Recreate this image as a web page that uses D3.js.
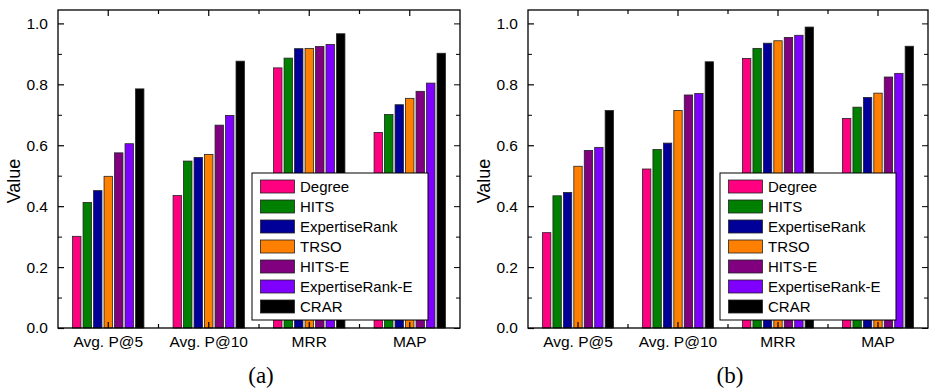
<!DOCTYPE html>
<html>
<head>
<meta charset="utf-8">
<script src="https://cdn.jsdelivr.net/npm/d3@7/dist/d3.min.js"></script>
<style>
  html, body { margin: 0; padding: 0; background: #fff; }
  svg { display: block; }
  text { font-family: "Liberation Sans", Arial, sans-serif; fill: #000; }
</style>
</head>
<body>
<svg id="chart" width="930" height="389"></svg>
<script>
const categories = ["Avg. P@5", "Avg. P@10", "MRR", "MAP"];
const seriesNames = ["Degree", "HITS", "ExpertiseRank", "TRSO", "HITS-E", "ExpertiseRank-E", "CRAR"];
const seriesColors = ["#FF0080", "#008000", "#000099", "#FF8000", "#800080", "#8000FF", "#000000"];
// values per series, per category (panel a)
const valuesA = [
  [0.301, 0.435, 0.854, 0.642],
  [0.412, 0.548, 0.886, 0.701],
  [0.451, 0.560, 0.917, 0.733],
  [0.498, 0.570, 0.918, 0.754],
  [0.575, 0.666, 0.924, 0.777],
  [0.605, 0.698, 0.931, 0.804],
  [0.785, 0.876, 0.966, 0.902]
];
// panel b
const valuesB = [
  [0.313, 0.522, 0.885, 0.688],
  [0.434, 0.586, 0.918, 0.725],
  [0.445, 0.607, 0.935, 0.757],
  [0.531, 0.714, 0.943, 0.771],
  [0.583, 0.765, 0.954, 0.824],
  [0.593, 0.770, 0.961, 0.836],
  [0.714, 0.874, 0.988, 0.925]
];
const yTicks = [0.0, 0.2, 0.4, 0.6, 0.8, 1.0];
const yMinorTicks = [0.1, 0.3, 0.5, 0.7, 0.9];
const panelLabels = ["(a)", "(b)"];
const yAxisTitle = "Value";

const svg = d3.select("#chart");

function drawPanel(values, left, right, label) {
  const top = 10, bottom = 328;
  const g = svg.append("g");
  const y = d3.scaleLinear().domain([0, 1.044]).range([bottom, top]);
  const x = d3.scaleBand().domain(categories).range([left, right]).padding(0);
  const groupW = x.bandwidth() * 0.71;
  const xs = d3.scaleBand().domain(seriesNames)
    .range([(x.bandwidth() - groupW) / 2, (x.bandwidth() + groupW) / 2])
    .paddingInner(0.2).paddingOuter(0);

  // bars
  seriesNames.forEach((s, si) => {
    g.append("g").selectAll("rect")
      .data(categories.map((c, ci) => ({c, v: values[si][ci]})))
      .join("rect")
      .attr("x", d => x(d.c) + xs(s))
      .attr("width", xs.bandwidth())
      .attr("y", d => y(d.v))
      .attr("height", d => y(0) - y(d.v))
      .attr("fill", seriesColors[si])
      .attr("stroke", "#222")
      .attr("stroke-width", 0.8);
  });

  // frame
  g.append("rect").attr("x", left).attr("y", top)
    .attr("width", right - left).attr("height", bottom - top)
    .attr("fill", "none").attr("stroke", "#000").attr("stroke-width", 1.3);

  // y ticks (inward, both sides)
  const yAxisL = d3.axisLeft(y).tickValues(yTicks).tickSizeInner(-6).tickSizeOuter(0)
    .tickPadding(10).tickFormat(d3.format(".1f"));
  const gl = g.append("g").attr("transform", `translate(${left},0)`).call(yAxisL);
  gl.select(".domain").remove();
  gl.selectAll("text").style("font-size", "15.5px").style("font-family", '"Liberation Sans", Arial, sans-serif');
  gl.selectAll("line").attr("stroke-width", 1.2);
  const glm = g.append("g").attr("transform", `translate(${left},0)`)
    .call(d3.axisLeft(y).tickValues(yMinorTicks).tickSizeInner(-4).tickSizeOuter(0).tickFormat(""));
  glm.select(".domain").remove();

  const gr = g.append("g").attr("transform", `translate(${right},0)`)
    .call(d3.axisRight(y).tickValues(yTicks).tickSizeInner(-6).tickSizeOuter(0).tickFormat(""));
  gr.select(".domain").remove();
  const grm = g.append("g").attr("transform", `translate(${right},0)`)
    .call(d3.axisRight(y).tickValues(yMinorTicks).tickSizeInner(-4).tickSizeOuter(0).tickFormat(""));
  grm.select(".domain").remove();

  // x ticks: major at centers, minor at boundaries, inward, top and bottom
  const centers = categories.map(c => x(c) + x.bandwidth() / 2);
  const bounds = categories.slice(1).map(c => x(c));
  [[centers, 6], [bounds, 4]].forEach(([arr, len]) => {
    g.append("g").selectAll("line").data(arr).join("line")
      .attr("x1", d => d).attr("x2", d => d)
      .attr("y1", bottom).attr("y2", bottom - len)
      .attr("stroke", "#000").attr("stroke-width", 1.2);
    g.append("g").selectAll("line").data(arr).join("line")
      .attr("x1", d => d).attr("x2", d => d)
      .attr("y1", top).attr("y2", top + len)
      .attr("stroke", "#000").attr("stroke-width", 1.2);
  });

  // x labels
  g.append("g").selectAll("text").data(categories).join("text")
    .attr("x", c => x(c) + x.bandwidth() / 2)
    .attr("y", 347)
    .attr("text-anchor", "middle")
    .style("font-size", "15.5px")
    .text(c => c);

  // y title
  g.append("text")
    .attr("transform", `translate(${left - 38},${(top + bottom) / 2 + 12}) rotate(-90)`)
    .attr("text-anchor", "middle")
    .style("font-size", "18px")
    .text(yAxisTitle);

  // panel label
  g.append("text")
    .attr("x", (left + right) / 2 + 2)
    .attr("y", 383)
    .attr("text-anchor", "middle")
    .style("font-family", '"Liberation Serif", "Times New Roman", serif')
    .style("font-size", "23px")
    .text(label);

  // legend
  const lx = right - 208, ly = 173, lw = 176, lh = 147;
  const lg = g.append("g");
  lg.append("rect").attr("x", lx).attr("y", ly).attr("width", lw).attr("height", lh)
    .attr("fill", "#fff").attr("stroke", "#000").attr("stroke-width", 1);
  seriesNames.forEach((s, i) => {
    const cy = ly + 13.5 + i * 20;
    lg.append("rect").attr("x", lx + 8.5).attr("y", cy - 6.5)
      .attr("width", 34).attr("height", 13)
      .attr("fill", seriesColors[i]).attr("stroke", "#222").attr("stroke-width", 0.8);
    lg.append("text").attr("x", lx + 48).attr("y", cy + 5.5)
      .style("font-size", "15px").text(s);
  });
}

drawPanel(valuesA, 58, 460, panelLabels[0]);
drawPanel(valuesB, 528, 928, panelLabels[1]);
</script>
</body>
</html>
